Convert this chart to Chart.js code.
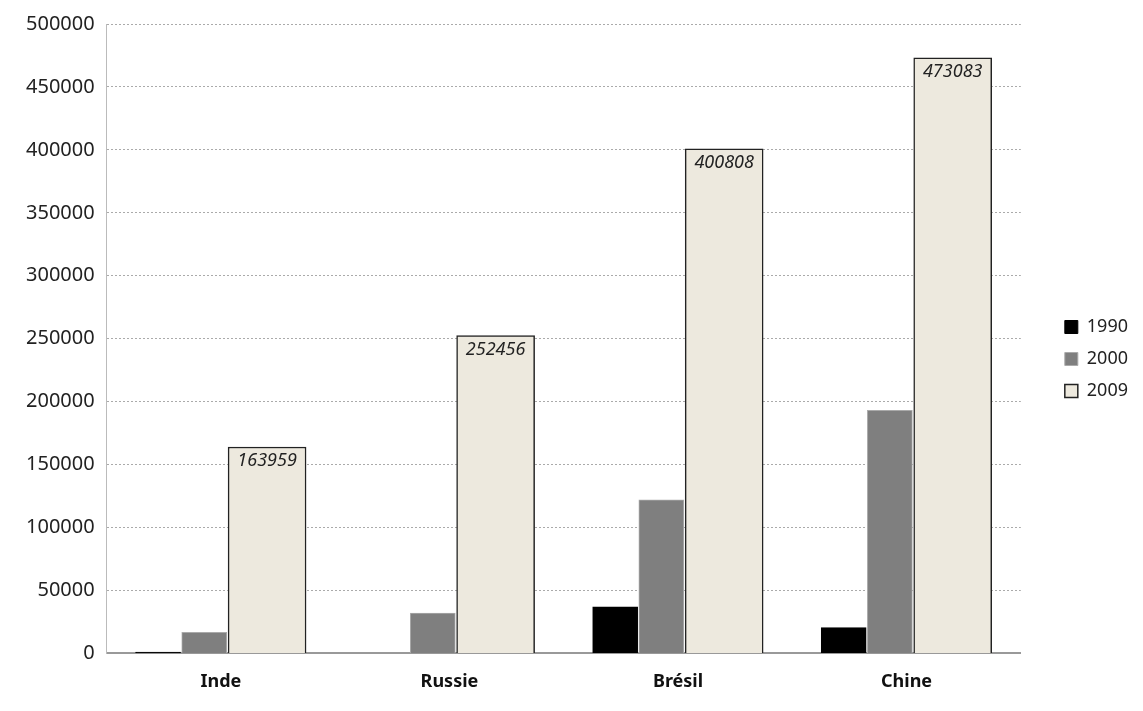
<!DOCTYPE html>
<html><head><meta charset="utf-8">
<script src="https://cdn.jsdelivr.net/npm/chart.js@4"></script>
<style>html,body{margin:0;background:#fff}#wrap{width:1143px;height:711px}</style>
</head><body><div id="wrap"><canvas id="c"></canvas></div>
<script>
const categories = ['Inde', 'Russie', 'Brésil', 'Chine'];
const years = ['1990', '2000', '2009'];
const v1990 = [1000, 0, 37000, 20500];
const v2000 = [16800, 32100, 122000, 193000];
const v2009 = [163959, 252456, 400808, 473083];
const yTicks = [0, 50000, 100000, 150000, 200000, 250000, 300000, 350000, 400000, 450000, 500000];

// décalage de chaque série dans sa catégorie (en unités de catégorie)
const shift = [-0.275, -0.073, 0.202];
const pts = (vals, k) => vals.map((v, i) => ({x: i + shift[k], y: v}));

const labelPlugin = {
    id: 'labels2009',
    afterDatasetsDraw(chart) {
        const ctx = chart.ctx;
        const meta = chart.getDatasetMeta(2);
        ctx.save();
        ctx.font = 'italic 18px "Noto Sans"';
        ctx.fillStyle = '#222';
        ctx.textAlign = 'center';
        ctx.textBaseline = 'top';
        meta.data.forEach((bar, i) => {
            ctx.fillText(String(v2009[i]), bar.x, bar.y + 5);
        });
        ctx.restore();
    }
};

// élargit la légende pour laisser de l'espace à droite du graphique
const legendGap = {
    id: 'legendGap',
    afterInit(chart) {
        const lg = chart.legend;
        const fit = lg.fit;
        lg.fit = function () { fit.call(this); this.width += 35; };
    },
    beforeDraw(chart) {
        // décale la légende vers la droite comme dans l'original
        chart.legend.left += 30;
    }
};

new Chart(document.getElementById('c'), {
    type: 'bar',
    data: {
        datasets: [
            {label: years[0], data: pts(v1990, 0), backgroundColor: '#000', borderColor: '#000', borderWidth: 1, barThickness: 45},
            {label: years[1], data: pts(v2000, 1), backgroundColor: '#7f7f7f', borderColor: '#aaa', borderWidth: 1, barThickness: 45},
            {label: years[2], data: pts(v2009, 2), backgroundColor: '#ede9de', borderColor: '#222', borderWidth: 1.5, barThickness: 78}
        ]
    },
    options: {
        responsive: true,
        maintainAspectRatio: false,
        animation: false,
        grouped: false,
        layout: {padding: {left: 14, top: 15, right: 0, bottom: 8}},
        plugins: {
            tooltip: {enabled: false},
            legend: {
                position: 'right',
                labels: {color: '#222', font: {size: 18, family: 'Noto Sans'}, boxWidth: 13, boxHeight: 13, padding: 14}
            }
        },
        scales: {
            x: {
                type: 'linear', min: -0.5, max: 3.5, offset: false,
                afterBuildTicks: s => { s.ticks = categories.map((c, i) => ({value: i})); },
                ticks: {callback: v => categories[v], color: '#111', font: {size: 18, weight: 'bold', family: 'Noto Sans'}, padding: 10},
                grid: {display: false},
                border: {color: '#999', width: 2}
            },
            y: {
                min: 0, max: 500000,
                afterBuildTicks: s => { s.ticks = yTicks.map(v => ({value: v})); },
                ticks: {callback: v => String(v), color: '#222', font: {size: 20, family: 'Noto Sans'}, padding: 12},
                grid: {color: '#aaa', borderDash: [2, 2], drawTicks: false},
                border: {color: '#bbb', dash: [2, 2]}
            }
        }
    },
    plugins: [labelPlugin, legendGap]
});
</script></body></html>
